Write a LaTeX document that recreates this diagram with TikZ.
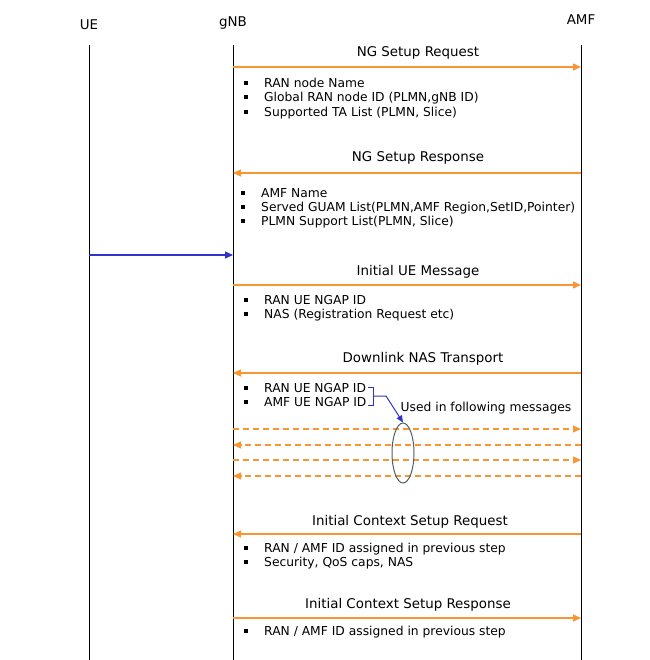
\documentclass[tikz,border=0pt]{standalone}
\usepackage{fontspec}
\setmainfont{DejaVu Sans}
\usetikzlibrary{arrows.meta, shapes.geometric}
\definecolor{msgorange}{RGB}{247,150,50}
\definecolor{noteblue}{RGB}{50,50,200}
\definecolor{ringgray}{RGB}{80,95,95}
\newcommand{\itm}[1]{\makebox[20pt][l]{\raisebox{2.5pt}{\rule{4pt}{4pt}}}#1}

\begin{document}
\begin{tikzpicture}[x=1pt, y=-1pt,
    every node/.style={font=\fontsize{13.4}{14.3}\selectfont, inner sep=0pt},
    lifeline/.style={black, line width=1pt},
    msg/.style={msgorange, line width=1.2pt, -{Triangle[length=8pt, width=7pt]}},
    msgdash/.style={msg, dash pattern=on 6pt off 4pt},
    bullets/.style={anchor=north west, align=left, font=\fontsize{12.3}{14.3}\selectfont},
    msgname/.style={anchor=base}]
    % Frame
    \useasboundingbox (0,0) rectangle (649,660);

    % Lifelines
    \node[msgname] (ue)  at (89,30)  {UE};
    \node[msgname] (gnb) at (233,27) {gNB};
    \node[msgname] (amf) at (581,25) {AMF};
    \draw[lifeline] (89,45)  coordinate (uetop)  -- (89,660)  coordinate (uebot);
    \draw[lifeline] (233,45) coordinate (gnbtop) -- (233,660) coordinate (gnbbot);
    \draw[lifeline] (581,45) coordinate (amftop) -- (581,660) coordinate (amfbot);

    % Message end points
    \foreach \n/\y in {req/67, rsp/173, ini/285, dl/373, da/429, db/445, dc/460, dd/476, icq/534, ics/618}{
        \coordinate (g\n) at (233,\y);
        \coordinate (f\n) at (581,\y);
    }
    \coordinate (uini) at (89,255);
    \coordinate (gue) at (233,255);

    % NG setup
    \draw[msg] (greq) -- (freq);
    \node[msgname] (reqname) at (418,57) {NG Setup Request};
    \node[bullets] (reqlist) at (244,78) {\itm{RAN node Name}\\ \itm{Global RAN node ID (PLMN,gNB ID)}\\ \itm{Supported TA List (PLMN, Slice)}};

    \draw[msg] (frsp) -- (grsp);
    \node[msgname] (rspname) at (418,162) {NG Setup Response};
    \node[bullets] (rsplist) at (241,188) {\itm{AMF Name}\\ \itm{Served GUAM List(PLMN,AMF Region,SetID,Pointer)}\\ \itm{PLMN Support List(PLMN, Slice)}};

    % UE side
    \draw[noteblue, line width=1.2pt, -{Triangle[length=8pt, width=7pt]}] (uini) -- (gue);

    \draw[msg] (gini) -- (fini);
    \node[msgname] (ininame) at (418,275) {Initial UE Message};
    \node[bullets] (inilist) at (244,295) {\itm{RAN UE NGAP ID}\\ \itm{NAS (Registration Request etc)}};

    \draw[msg] (fdl) -- (gdl);
    \node[msgname] (dlname) at (423,362) {Downlink NAS Transport};
    \node[bullets] (dllist) at (244,383) {\itm{RAN UE NGAP ID}\\ \itm{AMF UE NGAP ID}};

    % Later messages
    \draw[msgdash] (gda) -- (fda);
    \draw[msgdash] (fdb) -- (gdb);
    \draw[msgdash] (gdc) -- (fdc);
    \draw[msgdash] (fdd) -- (gdd);
    \node[draw=ringgray, line width=1pt, ellipse, minimum width=22pt, minimum height=60pt] (ring) at (403,453) {};
    \draw[noteblue, line width=1pt] (368,387) -- (373,387) -- (373,405) -- (368,405);
    \draw[noteblue, line width=1pt, -{Triangle[length=7pt, width=6pt]}] (373,396) -- (386,396) -- (ring.north);
    \node[msgname, font=\fontsize{12.3}{14.3}\selectfont] (usednote) at (486,411) {Used in following messages};

    % Context setup
    \draw[msg] (ficq) -- (gicq);
    \node[msgname] (icqname) at (410,525) {Initial Context Setup Request};
    \node[bullets] (icqlist) at (244,543) {\itm{RAN / AMF ID assigned in previous step}\\ \itm{Security, QoS caps, NAS}};

    \draw[msg] (gics) -- (fics);
    \node[msgname] (icsname) at (408,608) {Initial Context Setup Response};
    \node[bullets] (icslist) at (244,626) {\itm{RAN / AMF ID assigned in previous step}};
\end{tikzpicture}
\end{document}
